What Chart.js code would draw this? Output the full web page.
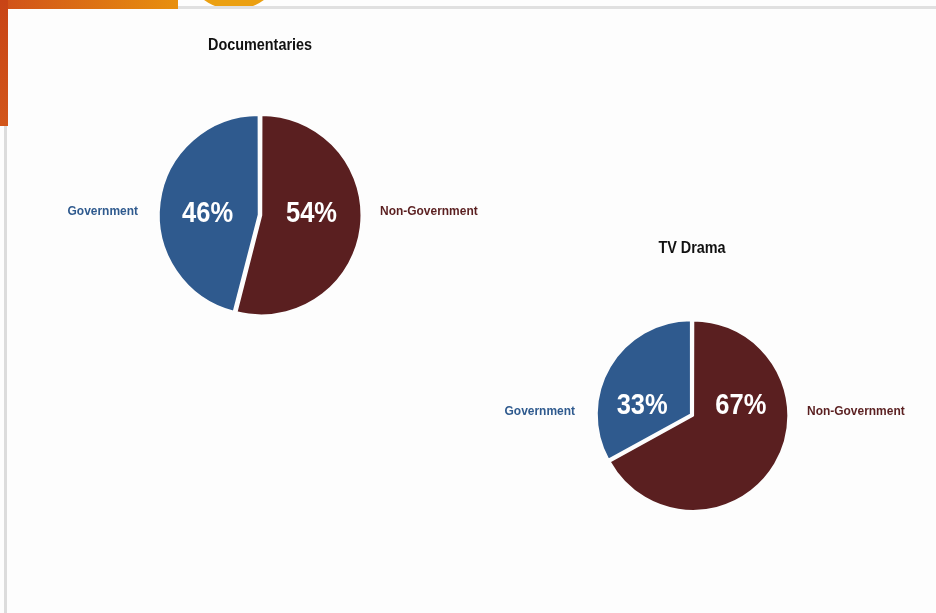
<!DOCTYPE html>
<html>
<head>
<meta charset="utf-8">
<script src="https://cdn.jsdelivr.net/npm/chart.js@4.4.1/dist/chart.umd.min.js"></script>
<style>
  html, body { margin: 0; padding: 0; }
  body { width: 936px; height: 613px; background: #fdfdfd; position: relative; overflow: hidden; }
  .deco-top { position: absolute; left: 0; top: 0; width: 178px; height: 9px; background: linear-gradient(90deg, #d0501a, #e8900e); }
  .deco-left { position: absolute; left: 0; top: 0; width: 8px; height: 126px; background: linear-gradient(180deg, #c84416, #d2561a); }
  .deco-circle { position: absolute; left: 178px; top: -120px; width: 112px; height: 130px; border-radius: 50%; background: #eba012; }
  .card { position: absolute; left: 4px; top: 6px; right: 0; bottom: 0; border-left: 3px solid #dcdcdc; border-top: 3px solid #e0e0e0; background: #fdfdfd; }
  .wrap { position: absolute; }
</style>
</head>
<body>
<div class="deco-circle"></div>
<div class="card"></div>
<div class="deco-top"></div>
<div class="deco-left"></div>
<div class="wrap" style="left:20px; top:5px; width:480px; height:420px;"><canvas id="docChart"></canvas></div>
<div class="wrap" style="left:452px; top:205px; width:480px; height:420px;"><canvas id="tvChart"></canvas></div>
<script>
// data
const categories = ['Non-Government', 'Government'];
const documentaryShare = [54, 46];
const tvDramaShare = [67, 33];
const colors = ['#5a1f20', '#2f5a8e'];

const fontFamily = '"Liberation Sans", Arial, sans-serif';

// condensed text, the original uses a narrow face
function narrowText(ctx, text, x, y, squeeze) {
  ctx.save();
  ctx.translate(x, y);
  ctx.scale(squeeze, 1);
  ctx.fillText(text, 0, 0);
  ctx.restore();
}

// draws title, percentages and side labels around the pie
const pieLabels = {
  id: 'pieLabels',
  afterDraw(chart, args, opts) {
    const ctx = chart.ctx;
    const arc = chart.getDatasetMeta(0).data[0];
    const cx = chart.chartArea.left + chart.chartArea.width / 2;
    const cy = chart.chartArea.top + chart.chartArea.height / 2;
    const r = arc.outerRadius;
    const values = chart.data.datasets[0].data;
    ctx.save();
    ctx.textBaseline = 'middle';

    ctx.fillStyle = '#111';
    ctx.textAlign = 'center';
    ctx.font = 'bold 16px ' + fontFamily;
    narrowText(ctx, opts.title, cx, cy - r - opts.titleGap, 0.9);

    ctx.fillStyle = '#ffffff';
    ctx.font = 'bold 30px ' + fontFamily;
    narrowText(ctx, values[1] + '%', cx - r * 0.53, cy + opts.pctDy, 0.85);
    narrowText(ctx, values[0] + '%', cx + r * 0.52, cy + opts.pctDy, 0.85);

    ctx.font = 'bold 13px ' + fontFamily;
    ctx.textAlign = 'right';
    ctx.fillStyle = colors[1];
    narrowText(ctx, chart.data.labels[1], cx - r - 23, cy - 4, 0.92);
    ctx.textAlign = 'left';
    ctx.fillStyle = colors[0];
    narrowText(ctx, chart.data.labels[0], cx + r + 21, cy - 4, 0.92);
    ctx.restore();
  }
};

function makePie(id, values, radius, title, titleGap, pctDy) {
  const ctx = document.getElementById(id).getContext('2d');
  return new Chart(ctx, {
    type: 'pie',
    data: {
      labels: categories,
      datasets: [{
        data: values,
        backgroundColor: colors,
        borderColor: '#fdfdfd',
        borderWidth: 2,
        offset: 5
      }]
    },
    options: {
      responsive: true,
      maintainAspectRatio: false,
      animation: false,
      radius: radius,
      layout: { padding: 0 },
      plugins: {
        legend: { display: false },
        tooltip: { enabled: false },
        pieLabels: { title: title, titleGap: titleGap, pctDy: pctDy }
      }
    },
    plugins: [pieLabels]
  });
}

makePie('docChart', documentaryShare, 99, 'Documentaries', 70, -1);
makePie('tvChart', tvDramaShare, 94, 'TV Drama', 72, -9);
</script>
</body>
</html>
